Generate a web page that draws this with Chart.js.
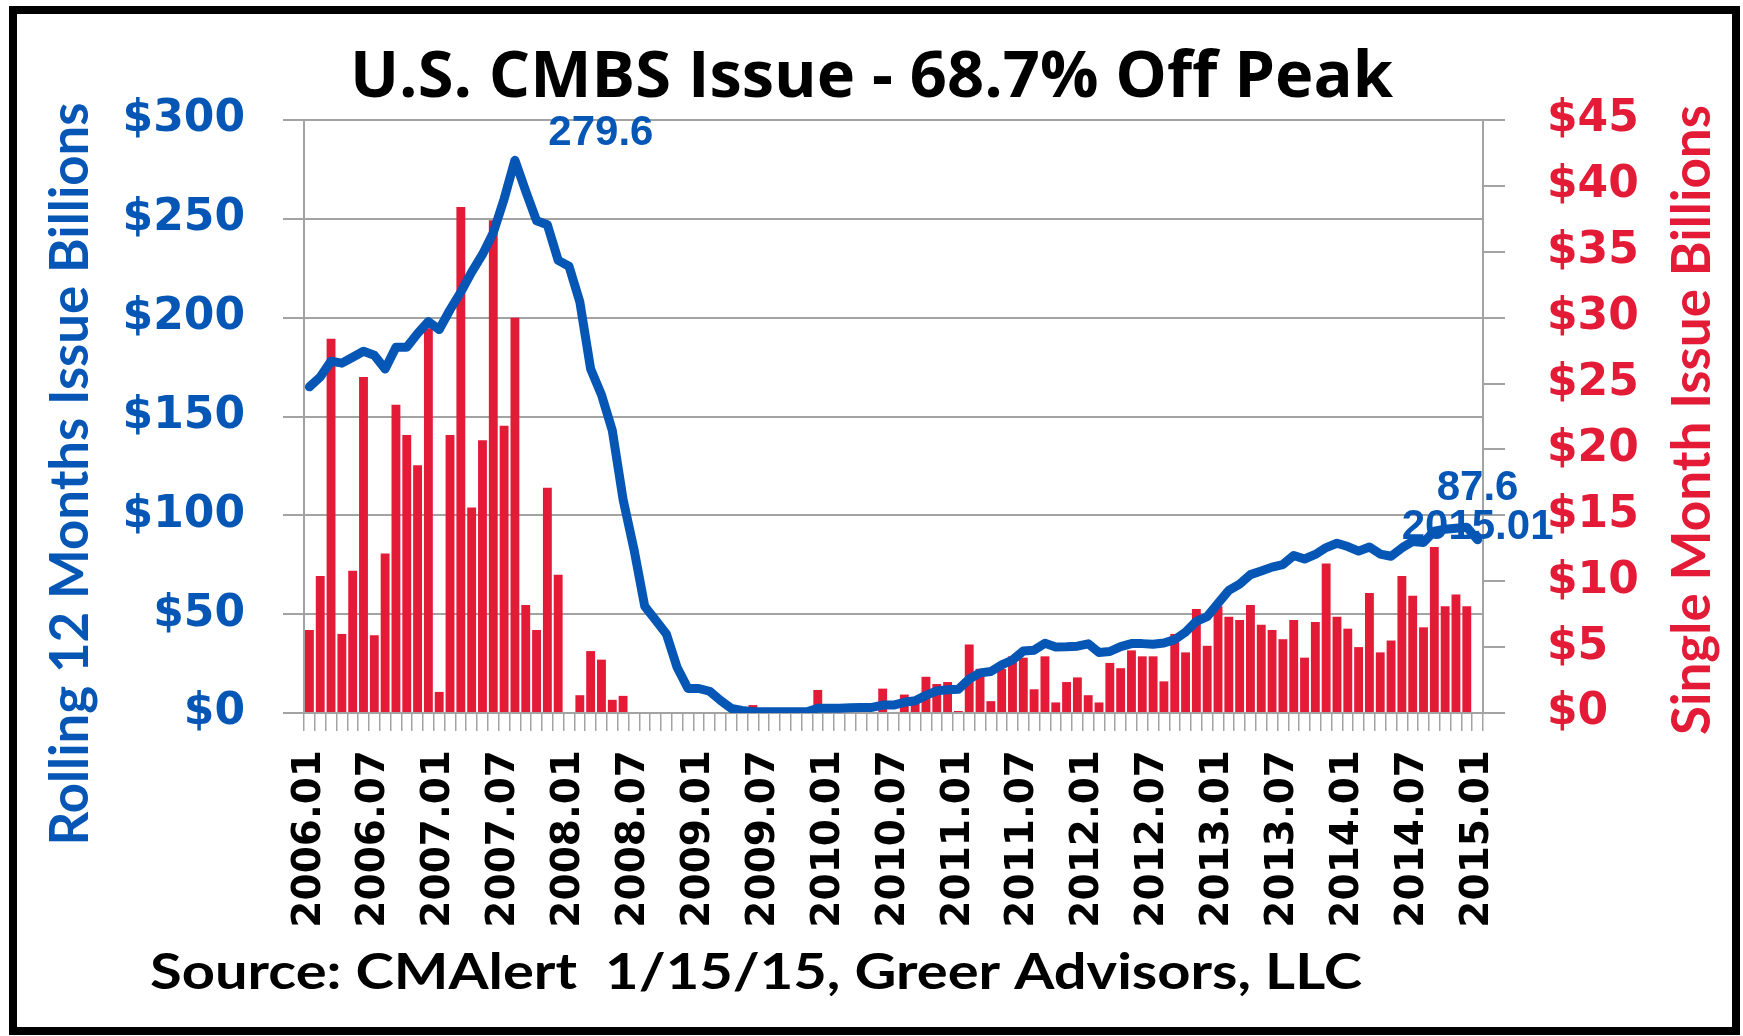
<!DOCTYPE html>
<html>
<head>
<meta charset="utf-8">
<title>U.S. CMBS Issue</title>
<script src="https://cdn.jsdelivr.net/npm/chart.js@4.4.1/dist/chart.umd.min.js"></script>
<style>
  html, body { margin: 0; padding: 0; background: #fff; overflow: hidden; }
  canvas { display: block; }
</style>
</head>
<body>
<canvas id="myChart" width="1743" height="1036"></canvas>
<script>
// months 2006.01 .. 2015.01
const months = [];
for (let y = 2006; y <= 2015; y++) {
  for (let m = 1; m <= 12; m++) {
    if (y === 2015 && m > 1) break;
    months.push(y + '.' + String(m).padStart(2, '0'));
  }
}

// single month issue, $ billions (right axis)
const monthlyIssue = [
  6.3, 10.4, 28.4, 6.0, 10.8, 25.5, 5.9, 12.1, 23.4, 21.1, 18.8, 29.2,
  1.6, 21.1, 38.4, 15.6, 20.7, 37.4, 21.8, 30.0, 8.2, 6.3, 17.1, 10.5,
  0, 1.35, 4.7, 4.05, 1.0, 1.3, 0, 0, 0, 0, 0, 0,
  0, 0, 0, 0, 0, 0.6, 0, 0, 0, 0, 0, 1.75,
  0, 0, 0.2, 0.2, 0, 1.85, 0, 1.4, 0.8, 2.75, 2.2, 2.35,
  0.15, 5.2, 3.35, 0.9, 3.35, 4.3, 4.2, 1.8, 4.3, 0.8, 2.35, 2.7,
  1.35, 0.8, 3.8, 3.4, 4.75, 4.3, 4.3, 2.4, 6.0, 4.6, 7.9, 5.1,
  8.1, 7.3, 7.05, 8.2, 6.7, 6.3, 5.6, 7.05, 4.2, 6.9, 11.35, 7.3,
  6.4, 5.0, 9.1, 4.6, 5.5, 10.4, 8.9, 6.5, 12.6, 8.1, 9.0, 8.1,
  0
];

// rolling 12 months issue, $ billions (left axis)
const rolling12 = [
  165, 170, 178, 177, 180, 183, 181, 174, 185, 185, 192, 198,
  194, 204, 213, 223, 232, 243, 260, 279.6, 264, 249, 247, 229,
  226, 208, 174, 161, 143, 108, 83, 54, 47, 40, 23, 12.4,
  12.4, 11, 6.4, 2.3, 1.3, 0.6, 0.6, 0.6, 0.6, 0.6, 0.6, 2.4,
  2.4, 2.4, 2.6, 2.8, 2.8, 4.0, 4.0, 5.4, 6.2, 8.9, 11.2, 11.8,
  12.0, 17.2, 20.3, 21.0, 24.3, 26.8, 31.4, 31.8, 35.3, 33.4, 33.5, 33.8,
  35.0, 30.6, 31.1, 33.6, 35.1, 35.1, 34.8, 35.4, 37.1, 40.9, 46.4, 48.8,
  55.5, 62.0, 65.2, 70.0, 71.8, 73.8, 75.1, 79.7, 77.9, 80.2, 83.7, 85.9,
  84.2, 81.9, 84.0, 80.4, 79.3, 83.5, 86.8, 86.3, 92, 93, 93.5, 94,
  87.6
];

const leftTicks = [0, 50, 100, 150, 200, 250, 300];
const rightTicks = [0, 5, 10, 15, 20, 25, 30, 35, 40, 45];

const blue = '#0556b5';
const red = '#e31b37';
const gridColor = '#a3a3a3';

// text squeezed to a target length (Calibri-like narrow look)
function drawFitted(ctx, text, x, y, len, font, color, rot) {
  ctx.save();
  ctx.translate(x, y);
  ctx.rotate(rot);
  ctx.font = font;
  const w = ctx.measureText(text).width;
  ctx.scale(len / w, 1);
  ctx.textAlign = 'center';
  ctx.textBaseline = 'alphabetic';
  ctx.fillStyle = color;
  ctx.fillText(text, 0, 0);
  ctx.restore();
}

const decor = {
  id: 'decor',
  beforeDraw(chart) {
    const { ctx, width, height } = chart;
    ctx.save();
    ctx.fillStyle = '#fff';
    ctx.fillRect(0, 0, width, height);
    ctx.restore();
  },
  afterDatasetsDraw(chart) {
    const { ctx } = chart;
    const meta = chart.getDatasetMeta(0);
    const peak = rolling12.indexOf(Math.max(...rolling12));
    const last = rolling12.length - 1;
    const p = meta.data[peak];
    const q = meta.data[last];
    ctx.save();
    ctx.font = 'bold 42px "Liberation Sans", Arial';
    ctx.fillStyle = blue;
    ctx.textAlign = 'center';
    ctx.textBaseline = 'middle';
    ctx.fillText(rolling12[peak].toFixed(1), p.x + 86, p.y - 27);
    ctx.fillText(rolling12[last].toFixed(1), q.x, q.y - 51);
    ctx.fillText(months[last], q.x, q.y - 12);
    ctx.restore();
  },
  afterDraw(chart) {
    const { ctx } = chart;
    const font = 'bold 53px Lato';
    drawFitted(ctx, 'Rolling 12 Months Issue Billions', 88, 474, 743, font, blue, -Math.PI / 2);
    drawFitted(ctx, 'Single Month Issue Billions', 1710, 420, 630, font, red, -Math.PI / 2);
    drawFitted(ctx, 'Source: CMAlert  1/15/15, Greer Advisors, LLC', 756, 989, 1212, 'bold 49px Lato', '#000', 0);
    // frame
    ctx.save();
    ctx.strokeStyle = '#000';
    ctx.lineWidth = 8;
    ctx.strokeRect(13, 10, 1723, 1021);
    ctx.restore();
  }
};

let myChart;

const crearGrafico = () => {
  const ctx = document.getElementById('myChart');
  myChart = new Chart(ctx, {
    type: 'bar',
    data: {
      labels: months,
      datasets: [{
        type: 'line',
        label: 'Rolling 12 Months',
        data: rolling12,
        yAxisID: 'y',
        borderColor: blue,
        borderWidth: 9,
        pointRadius: 0,
        tension: 0,
        borderJoinStyle: 'round',
        borderCapStyle: 'round',
        order: 0
      }, {
        type: 'bar',
        label: 'Single Month',
        data: monthlyIssue,
        yAxisID: 'y1',
        backgroundColor: red,
        categoryPercentage: 1,
        barPercentage: 0.82,
        order: 1
      }]
    },
    options: {
      responsive: false,
      animation: false,
      devicePixelRatio: 1,
      layout: { padding: { top: 10, left: 20, right: 20, bottom: 103 } },
      plugins: {
        legend: { display: false },
        tooltip: { enabled: false },
        title: {
          display: true,
          text: 'U.S. CMBS Issue - 68.7% Off Peak',
          color: '#000',
          font: { family: '"Open Sans"', weight: 'bold', size: 65, lineHeight: 1.2 },
          padding: { top: 29, bottom: 3 }
        }
      },
      scales: {
        x: {
          afterFit: (s) => { s.height = 220 },
          grid: { drawOnChartArea: false, drawTicks: true, tickLength: 18, color: gridColor, lineWidth: 1.5 },
          border: { color: gridColor, width: 2 },
          ticks: {
            autoSkip: false,
            minRotation: 90,
            maxRotation: 90,
            padding: 19,
            color: '#000',
            font: { family: 'DejaVu Sans', weight: 'bold', size: 39 },
            callback: function (v, i) { return i % 6 === 0 ? this.getLabelForValue(v) : '' }
          }
        },
        y: {
          position: 'left',
          min: 0,
          max: 300,
          afterFit: (s) => { s.width = 284 },
          afterBuildTicks: (s) => { s.ticks = leftTicks.map(v => ({ value: v })) },
          grid: { color: gridColor, lineWidth: 2, tickLength: 21 },
          border: { color: gridColor, width: 2 },
          ticks: {
            padding: 38,
            color: blue,
            font: { family: 'DejaVu Sans', weight: 'bold', size: 44 },
            callback: (v) => '$' + v
          }
        },
        y1: {
          position: 'right',
          min: 0,
          max: 45,
          afterFit: (s) => { s.width = 240 },
          afterBuildTicks: (s) => { s.ticks = rightTicks.map(v => ({ value: v })) },
          grid: { drawOnChartArea: false, color: gridColor, lineWidth: 2, tickLength: 22 },
          border: { color: gridColor, width: 2 },
          ticks: {
            padding: 42,
            color: red,
            font: { family: 'DejaVu Sans', weight: 'bold', size: 44 },
            callback: (v) => '$' + v
          }
        }
      }
    },
    plugins: [decor]
  });
}

Promise.all([
  document.fonts.load('bold 53px Lato'),
  document.fonts.load('bold 65px "Open Sans"')
]).then(crearGrafico, crearGrafico);
</script>
</body>
</html>
